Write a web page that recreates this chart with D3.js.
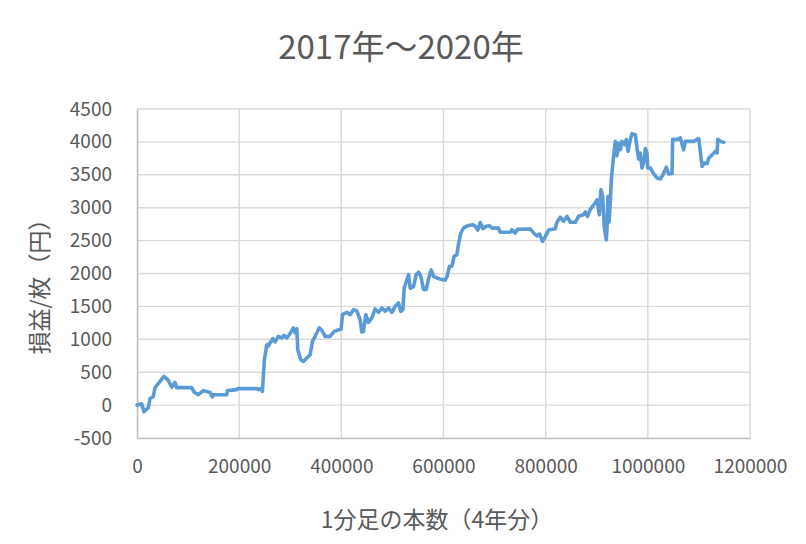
<!DOCTYPE html>
<html>
<head>
<meta charset="utf-8">
<script src="https://cdn.jsdelivr.net/npm/d3@7"></script>
<style>
  html, body { margin: 0; padding: 0; background: #fff; }
  text { font-family: "Noto Sans CJK JP", "Noto Sans", sans-serif; fill: #595959; }
</style>
</head>
<body>
<svg id="chart" width="806" height="544"></svg>
<script>
// ---- data ----
const titleText = "2017年～2020年";
const xAxisTitle = "1分足の本数（4年分）";
const yAxisTitle = "損益/枚（円）";
const xTicks = [0, 200000, 400000, 600000, 800000, 1000000, 1200000];
const yTicks = [-500, 0, 500, 1000, 1500, 2000, 2500, 3000, 3500, 4000, 4500];

const barCount = [
  0, 9200, 13700, 22200, 25500, 32000, 35300, 45000, 52900, 61400, 67900, 74400, 77700,
  107000, 111600, 120100, 129900, 143000, 147500, 149500, 175700, 176900, 195300, 196600,
  234400, 237700, 242300, 245500, 249400, 254000, 257200, 260500, 265700, 270300, 276800,
  283400, 287900, 293200, 298300, 306200, 309500, 312800, 314700, 320600, 325800, 332400,
  338900, 343500, 348700, 356500, 361800, 368300, 378000, 385900, 399600,
  402200, 410800, 417200, 423700, 430300, 436800, 440100, 443400, 447900, 453100, 459700,
  466200, 472700, 479300, 485800, 492300, 498900, 505400, 511900, 516500, 520500, 523000,
  531500, 534800, 541300, 546500, 551100, 555700, 560800, 566100, 570700, 575900, 580400,
  587100, 596900, 603300, 606700, 611700, 616400, 620900, 626200, 629400, 634100, 639200,
  648900, 657500, 662100, 667400, 671900, 677200, 683600, 690100, 694800, 707700, 711100,
  730600, 734000, 740400, 745000, 769800, 776300, 782900, 788000, 793900, 799200, 805700,
  818800, 822100, 828600, 835100, 841700, 848200, 858000, 864400, 874200, 877600, 882100,
  887300, 897100, 900500, 905000, 908300, 911500, 914800, 918700, 920100, 922000, 924000,
  926500, 928500, 933000, 936300, 939700, 942800, 946100, 949400, 954500, 957800, 961200,
  965700, 969000, 975500, 978800, 981900, 985300, 988600, 993100, 995100, 998400, 999600,
  1004900, 1010100, 1018000, 1024500, 1029700, 1036200, 1040700, 1047400, 1048600, 1057200,
  1063700, 1070100, 1073500, 1089700, 1099600, 1106200, 1110800, 1116000, 1119300, 1125900,
  1132400, 1135700, 1136900, 1142000, 1148700
];
const profit = [
  0, 20, -100, -40, 100, 130, 265, 360, 437, 375, 270, 345, 265,
  265, 200, 158, 220, 190, 123, 158, 158, 220, 235, 250,
  250, 235, 250, 208, 690, 918, 900, 944, 1010, 960, 1045,
  1020, 1060, 1020, 1070, 1172, 1100, 1160, 842, 690, 664, 715,
  766, 968, 1045, 1172, 1140, 1045, 1045, 1120, 1157,
  1374, 1410, 1374, 1450, 1430, 1298, 1110, 1120, 1374, 1257, 1325,
  1461, 1410, 1476, 1425, 1476, 1410, 1500, 1552, 1424, 1450, 1780,
  1982, 1775, 1800, 1982, 2020, 1957, 1760, 1755, 1920, 2055, 1957,
  1932, 1907, 1900, 1947, 2110, 2110, 2261, 2286, 2450, 2616, 2692,
  2730, 2742, 2717, 2660, 2775, 2680, 2717, 2727, 2690, 2690, 2626,
  2626, 2666, 2616, 2672, 2677, 2616, 2570, 2600, 2489, 2560, 2660,
  2680, 2780, 2855, 2793, 2869, 2778, 2778, 2869, 2894, 2935, 2869,
  2975, 3075, 3120, 2894, 3274, 3173, 2700, 2514, 2700, 3173, 2780,
  3072, 3426, 3780, 4008, 3790, 3983, 3882, 4008, 3957, 4034, 3857,
  4034, 4126, 4110, 3907, 3740, 3831, 3604, 3730, 3900, 3831, 3604,
  3604, 3528, 3452, 3437, 3503, 3615, 3513, 3520, 4040, 4034,
  4060, 3882, 4008, 4008, 4050, 3628, 3680, 3670, 3755, 3806,
  3857, 3831, 4040, 4008, 3993
];

// ---- layout ----
const svg = d3.select("#chart");
const plot = { left: 137, right: 750, top: 109, bottom: 438 };

const x = d3.scaleLinear().domain([0, 1200000]).range([plot.left, plot.right]);
const y = d3.scaleLinear().domain([-500, 4500]).range([plot.bottom, plot.top]);

// gridlines
const grid = svg.append("g");
grid.selectAll("line.h").data(yTicks.filter(d => d !== -500)).enter().append("line")
  .attr("x1", plot.left).attr("x2", plot.right)
  .attr("y1", d => y(d)).attr("y2", d => y(d))
  .attr("stroke", "#D9D9D9").attr("stroke-width", 1.4);
grid.selectAll("line.v").data(xTicks.filter(d => d !== 0)).enter().append("line")
  .attr("x1", d => x(d)).attr("x2", d => x(d))
  .attr("y1", plot.top).attr("y2", plot.bottom)
  .attr("stroke", "#D9D9D9").attr("stroke-width", 1.4);

// axes with d3
const yAxis = d3.axisLeft(y).tickValues(yTicks).tickSize(0).tickPadding(25).tickFormat(d => String(d));
const xAxis = d3.axisBottom(x).tickValues(xTicks).tickSize(0).tickPadding(22).tickFormat(d => String(d));

const gy = svg.append("g").attr("transform", `translate(${plot.left},0)`).call(yAxis);
const gx = svg.append("g").attr("transform", `translate(0,${plot.bottom})`).call(xAxis);
[gx, gy].forEach(g => {
  g.select(".domain").attr("stroke", "#BFBFBF").attr("stroke-width", 1.6);
  g.selectAll("text").style("font-size", "19px").attr("fill", "#595959")
    .style("font-family", '"Noto Sans CJK JP", "Noto Sans", sans-serif');
});

// line
const pts = barCount.map((v, i) => [v, profit[i]]);
svg.append("path").datum(pts)
  .attr("fill", "none")
  .attr("stroke", "#5B9BD5")
  .attr("stroke-width", 3.6)
  .attr("stroke-linejoin", "round")
  .attr("stroke-linecap", "round")
  .attr("d", d3.line().x(d => x(d[0])).y(d => y(d[1])));

// titles
svg.append("text").attr("x", 401).attr("y", 59).attr("text-anchor", "middle")
  .style("font-size", "33px").text(titleText);
svg.append("text").attr("x", 437).attr("y", 528).attr("text-anchor", "middle")
  .style("font-size", "23px").text(xAxisTitle);
svg.append("text").attr("transform", "translate(48,281) rotate(-90)").attr("text-anchor", "middle")
  .style("font-size", "23px").text(yAxisTitle);
</script>
</body>
</html>
